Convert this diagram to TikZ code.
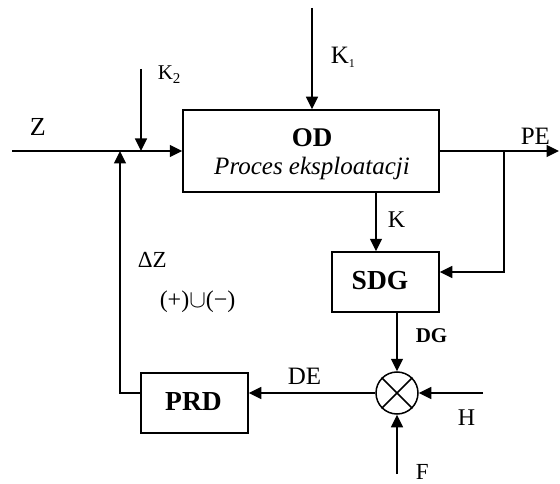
\documentclass[tikz,border=0pt]{standalone}
\usepackage{fontspec}
\setmainfont{Liberation Serif}
\usetikzlibrary{arrows.meta}
\newcommand{\fsz}[1]{\fontsize{#1}{#1}\selectfont}
\newcommand{\lowsub}[2]{\raisebox{-4pt}{\fsz{#1}#2}}
\begin{document}
\begin{tikzpicture}[x=1pt,y=-1pt,
  line width=1.5pt,
  arr/.style={-{Triangle[length=12.5pt,width=12pt]}},
  blk/.style={draw,line width=1.5pt,inner sep=0pt},
  lbl/.style={inner sep=0pt,anchor=base west},
  clbl/.style={inner sep=0pt,anchor=base}]
\useasboundingbox (0,0) rectangle (560,484);
% blocks
\node[blk,minimum width=256pt,minimum height=82pt] (OD) at (311,151) {};
\node[blk,minimum width=107pt,minimum height=60pt] (SDG) at (385.5,282) {};
\node[blk,minimum width=107pt,minimum height=60pt] (PRD) at (194.5,403) {};
\node[draw,circle,line width=1.5pt,minimum size=42pt,inner sep=0pt] (X) at (397,393) {};
\draw (X.north west) -- (X.south east) (X.north east) -- (X.south west);
% texts inside blocks
\node[clbl,font=\fsz{27}\bfseries] (odt) at (312,147) {OD};
\node[clbl,font=\fsz{25}\itshape] (odp) at (312,175) {Proces eksploatacji};
\node[clbl,font=\fsz{27.5}\bfseries] (sdgt) at (380,289) {SDG};
\node[clbl,font=\fsz{27.5}\bfseries] (prdt) at (193.5,410) {PRD};
% coordinates
\coordinate (zin) at (12,151);
\coordinate (sum) at (120,151);
\coordinate (k2s) at (141,69);
\coordinate (k2e) at (141,151);
\coordinate (k1s) at (312,8);
\coordinate (peout) at (559,151);
\coordinate (br) at (504,151);
\coordinate (brd) at (504,272);
\coordinate (fb) at (120,393);
\coordinate (hs) at (483,393);
\coordinate (fs) at (397,474);
% connectors
\draw[arr] (zin) -- (OD.west |- zin);
\draw[arr] (k2s) -- (k2e);
\draw[arr] (k1s) -- (OD.north -| k1s);
\draw[arr] (OD.east |- br) -- (peout);
\draw[arr] (br) -- (brd) -- (SDG.east |- brd);
\draw[arr] (OD.south -| 376,0) -- (SDG.north -| 376,0);
\draw[arr] (SDG.south -| X) -- (X.north);
\draw[arr] (hs) -- (X.east);
\draw[arr] (fs) -- (X.south);
\draw[arr] (X.west) -- (PRD.east |- X);
\draw[arr] (PRD.west |- fb) -- (fb) -- (sum);
% labels
\node[lbl,font=\fsz{26}] (lz) at (29,136) {Z};
\node[lbl,font=\fsz{21}] (lk2) at (157,80) {K\lowsub{15}{2}};
\node[lbl,font=\fsz{25}] (lk1) at (330,64) {K\lowsub{12}{1}};
\node[lbl,font=\fsz{25}] (lpe) at (520,145) {PE};
\node[lbl,font=\fsz{24}] (lk) at (387,227) {K};
\node[lbl,font=\fsz{21}\bfseries] (ldg) at (415,342) {DG};
\node[lbl,font=\fsz{24}] (lh) at (457,425) {H};
\node[lbl,font=\fsz{23}] (lf) at (415,479) {F};
\node[lbl,font=\fsz{25}] (lde) at (287,384) {DE};
\node[lbl,font=\fsz{23}] (ldz) at (137,267) {ΔZ};
\node[lbl,font=\fsz{24}] (lpm) at (159,307) {(+)$\mathord{\cup}$(−)};
\end{tikzpicture}
\end{document}
